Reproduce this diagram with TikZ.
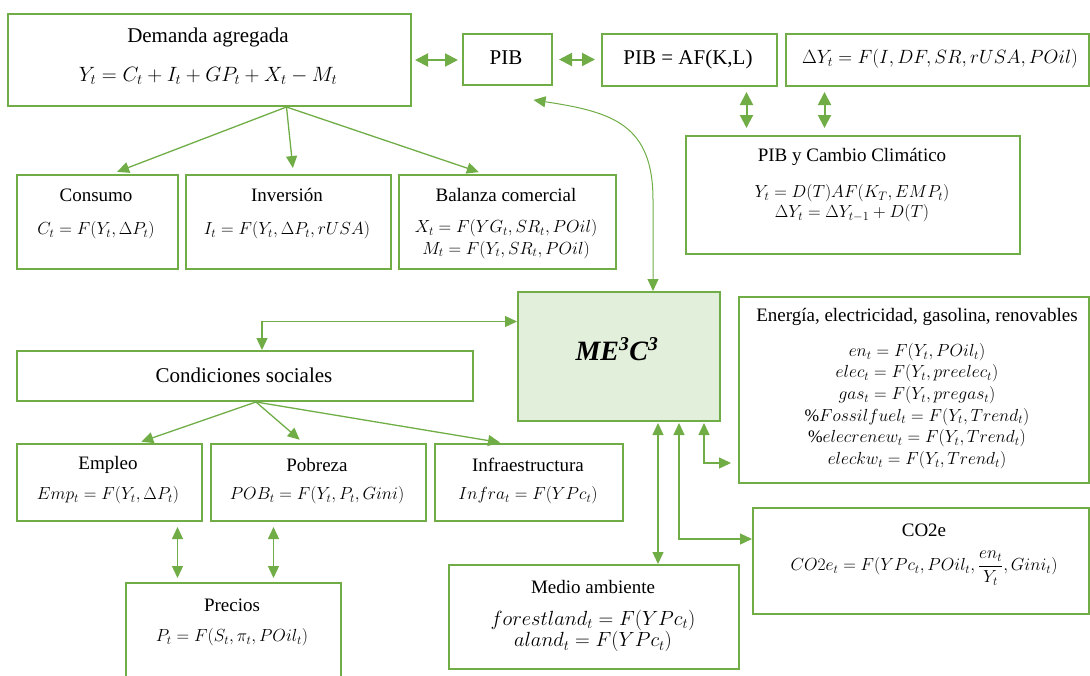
\documentclass[tikz,border=0pt]{standalone}
\usepackage{fix-cm}
\usepackage{fontspec}
\setmainfont{Liberation Serif}
\usepackage{amsmath}
\usetikzlibrary{arrows.meta, positioning, calc}
\definecolor{boxgreen}{HTML}{70AD47}
\definecolor{megreen}{HTML}{E2EFDA}

\begin{document}
\begin{tikzpicture}[
      x=1pt, y=-1pt,
      font=\fontsize{19}{21}\selectfont,
      box/.style={rectangle, draw=boxgreen, line width=2pt, anchor=north west,
                  inner sep=0pt},
      lbl/.style={inner sep=0pt, align=center},
      top/.style={lbl, font=\fontsize{21}{23}\selectfont},
      eqs/.style={inner sep=0pt, align=center, font=\fontsize{17.5}{21.6}\selectfont},
      big/.style={inner sep=0pt, font=\fontsize{28}{30}\selectfont\bfseries\itshape},
      arr/.style={-{Triangle[length=12pt, width=11pt]}, draw=boxgreen, line width=1.3pt},
      dbl/.style={{Triangle[length=12pt, width=11pt]}-{Triangle[length=12pt, width=11pt]},
                  draw=boxgreen, line width=1.3pt},
      bold/.style={dbl, line width=2pt,
                   {Triangle[length=13pt, width=13pt]}-{Triangle[length=13pt, width=13pt]}}
    ]
    \useasboundingbox (0,0) rectangle (1090,675);

    % Top row
    \node[box, minimum width=403pt, minimum height=92pt] (dem) at (7,13) {};
    \node[top] (demT) at (208,37) {Demanda agregada};
    \node[eqs, font=\fontsize{20.7}{23}\selectfont] (demF) at (208,76) {$Y_t = C_t + I_t + GP_t + X_t - M_t$};

    \node[box, minimum width=89pt, minimum height=51pt] (pib) at (462,33) {};
    \node[top] (pibT) at (506,58) {PIB};

    \node[box, minimum width=175pt, minimum height=52pt] (pibaf) at (601,33) {};
    \node[top] (pibafT) at (688,59) {PIB = AF(K,L)};

    \node[box, minimum width=303pt, minimum height=52pt] (dy) at (785,33) {};
    \node[eqs, font=\fontsize{19.2}{21}\selectfont] (dyF) at (940,59) {$\Delta Y_t = F(I, DF, SR, rUSA, POil)$};

    % PIB y cambio climatico
    \node[box, minimum width=334pt, minimum height=118pt] (pcc) at (685,135) {};
    \node[lbl] (pccT) at (852,157) {PIB y Cambio Climático};
    \node[eqs, font=\fontsize{17.5}{20}\selectfont] (pccF) at (852,203) {$Y_t = D(T)AF(K_T, EMP_t)$\\ $\Delta Y_t = \Delta Y_{t-1} + D(T)$};

    % Components of demand
    \node[box, minimum width=161pt, minimum height=94pt] (cons) at (16,174) {};
    \node[lbl] (consT) at (96,195) {Consumo};
    \node[eqs] (consF) at (96,230) {$C_t = F(Y_t, \Delta P_t)$};

    \node[box, minimum width=205pt, minimum height=94pt] (inv) at (185,174) {};
    \node[lbl] (invT) at (287,195) {Inversión};
    \node[eqs] (invF) at (287,230) {$I_t = F(Y_t, \Delta P_t, rUSA)$};

    \node[box, minimum width=217pt, minimum height=94pt] (bal) at (398,174) {};
    \node[lbl] (balT) at (506,195) {Balanza comercial};
    \node[eqs] (balF) at (506,239) {$X_t = F(YG_t, SR_t, POil)$\\ $M_t = F(Y_t, SR_t, POil)$};

    % Central model
    \node[box, fill=megreen, minimum width=202pt, minimum height=129pt] (me) at (517,291) {};
    \node[big] (meT) at (617,349) {ME\textsuperscript{3}C\textsuperscript{3}};

    % Energia
    \node[box, minimum width=350pt, minimum height=186pt] (en) at (738,296) {};
    \node[lbl] (enT) at (917,317) {Energía, electricidad, gasolina, renovables};
    \node[eqs] (enF) at (917,406) {$en_t = F(Y_t, POil_t)$\\
      $elec_t = F(Y_t, preelec_t)$\\
      $gas_t = F(Y_t, pregas_t)$\\
      $\%Fossilfuel_t = F(Y_t, Trend_t)$\\
      $\%elecrenew_t = F(Y_t, Trend_t)$\\
      $eleckw_t = F(Y_t, Trend_t)$};

    % CO2e
    \node[box, minimum width=336pt, minimum height=106pt] (co2) at (752,507) {};
    \node[lbl] (co2T) at (924,530) {CO2e};
    \node[eqs] (co2F) at (924,568) {$CO2e_t = F(YPc_t, POil_t, \dfrac{en_t}{Y_t}, Gini_t)$};

    % Social conditions
    \node[box, minimum width=456pt, minimum height=50pt] (cond) at (16,350) {};
    \node[top] (condT) at (244,375) {Condiciones sociales};

    \node[box, minimum width=185pt, minimum height=77pt] (emp) at (16,443) {};
    \node[lbl] (empT) at (108,465) {Empleo};
    \node[eqs] (empF) at (108,495) {$Emp_t = F(Y_t, \Delta P_t)$};

    \node[box, minimum width=215pt, minimum height=77pt] (pob) at (210,443) {};
    \node[lbl] (pobT) at (317,465) {Pobreza};
    \node[eqs] (pobF) at (317,495) {$POB_t = F(Y_t, P_t, Gini)$};

    \node[box, minimum width=188pt, minimum height=77pt] (inf) at (434,443) {};
    \node[lbl] (infT) at (528,465) {Infraestructura};
    \node[eqs] (infF) at (528,495) {$Infra_t = F(YPc_t)$};

    \node[box, minimum width=215pt, minimum height=100pt] (pre) at (125,582) {};
    \node[lbl] (preT) at (232,605) {Precios};
    \node[eqs] (preF) at (232,637) {$P_t = F(S_t, \pi_t, POil_t)$};

    % Medio ambiente
    \node[box, minimum width=290pt, minimum height=104pt] (ma) at (448,564) {};
    \node[lbl] (maT) at (593,587) {Medio ambiente};
    \node[eqs, font=\fontsize{20.5}{21.6}\selectfont] (maF) at (593,631) {$forestland_t = F(YPc_t)$\\ $aland_t = F(YPc_t)$};

    % Arrows: top row
    \draw[bold, shorten <=3pt, shorten >=4pt] (dem.east) -- (dem.east -| pib.west);
    \draw[bold, shorten <=6pt, shorten >=6pt] (pib.east) -- (pib.east -| pibaf.west);
    \draw[bold, shorten <=5pt, shorten >=7pt] ([xshift=57pt]pibaf.south) -- ([xshift=57pt]pibaf.south |- pcc.north);
    \draw[bold, shorten <=5pt, shorten >=7pt] ([xshift=-113pt]dy.south) -- ([xshift=-113pt]dy.south |- pcc.north);

    % Arrows: demand fan
    \coordinate (demS) at ([xshift=77pt]dem.south);
    \draw[arr, shorten >=6pt] (demS) -- ([xshift=14pt]cons.north);
    \draw[arr, shorten >=6pt] (demS) -- ([xshift=5pt]inv.north);
    \draw[arr, shorten >=6pt] (demS) -- ([xshift=-23pt]bal.north);

    % Arrow: PIB to model
    \coordinate (pibC) at ([xshift=26pt,yshift=-14pt]pib.south);
    \coordinate (bend) at ([xshift=34pt,yshift=91pt]me.north);
    \draw[dbl, line width=1pt] (pibC) .. controls +(80,12) and +(0,-75) .. (bend) -- ([xshift=34pt]me.north);

    % Arrows: model to blocks
    \draw[dbl] ([xshift=17pt]cond.north) |- ([yshift=35pt]me.west);
    \draw[dbl, shorten <=1pt] ([xshift=39pt]me.south) -- ([xshift=64pt]ma.north);
    \draw[dbl, shorten <=1pt] ([xshift=60pt]me.south) |- ([yshift=22pt]co2.west);
    \draw[dbl, shorten <=1pt, shorten >=7pt] ([xshift=85pt]me.south) |- ([yshift=-73pt]en.west);

    % Arrows: social fan
    \coordinate (condS) at ([xshift=11pt]cond.south);
    \draw[arr, shorten >=4pt] (condS) -- ([xshift=28pt]emp.north);
    \draw[arr, shorten >=5pt] (condS) -- ([xshift=-15pt]pob.north);
    \draw[arr, shorten >=3pt] (condS) -- ([xshift=-26pt]inf.north);

    % Arrows: prices
    \draw[dbl, shorten <=4pt, shorten >=5pt] ([xshift=-56pt]pre.north) -- ([xshift=-56pt]pre.north |- emp.south);
    \draw[dbl, shorten <=4pt, shorten >=5pt] ([xshift=40pt]pre.north) -- ([xshift=40pt]pre.north |- pob.south);
  \end{tikzpicture}
\end{document}
